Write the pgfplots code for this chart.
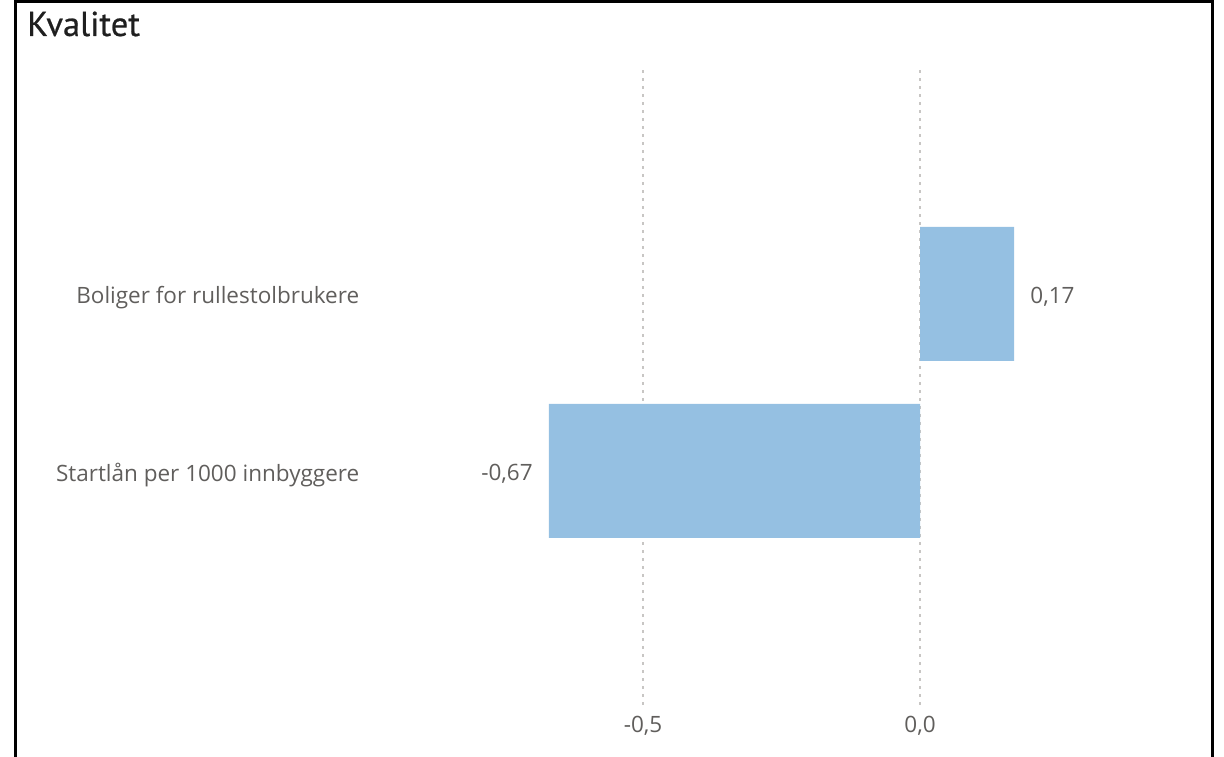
\documentclass[border=0pt]{standalone}
\usepackage{pgfplots}
\pgfplotsset{compat=1.18}
\usepackage{fontspec}
\setmainfont{Open Sans}
\newfontfamily\titlefont[FakeBold=0.6]{PT Sans}
\definecolor{txt}{HTML}{605E5C}
\definecolor{barc}{HTML}{95C0E2}
\definecolor{gridc}{HTML}{C8C6C4}
\begin{document}
\begin{tikzpicture}[x=1pt,y=1pt]
\useasboundingbox (0,0) rectangle (1224,757);
\draw[line width=3pt, black] (15,0) -- (15,755.5) -- (1212,755.5) -- (1212,0);
\node[anchor=base west, inner sep=0pt, text=black!88] at (27,721) {\titlefont\fontsize{34.5}{38}\selectfont Kvalitet};
\begin{axis}[
  at={(400pt,52pt)}, anchor=south west,
  scale only axis, width=780pt, height=640pt,
  xbar, bar width=134pt,
  xmin=-0.93863, xmax=0.46931,
  ymin=-1.3220, ymax=2.2938,
  axis line style={draw=none},
  major tick style={draw=none},
  xtick={-0.5,0}, ytick={0,1},
  yticklabels={Startlån per 1000 innbyggere, Boliger for rullestolbrukere},
  xmajorgrids, grid style={gridc, line width=1.5pt, dash pattern=on 3pt off 5pt},
  /pgf/number format/assume math mode=true,
  /pgf/number format/use comma,
  xticklabel={\pgfmathprintnumber[fixed, fixed zerofill, precision=1, use comma]{\tick}},
  xticklabel style={text=txt, font=\fontsize{22.5}{26}\selectfont, yshift=-8pt},
  yticklabel style={text=txt, font=\fontsize{22.5}{26}\selectfont, anchor=east, xshift=-33pt, yshift=-4pt},
  nodes near coords,
  nodes near coords align={horizontal},
  every node near coord/.append style={text=txt, font=\fontsize{22.5}{26}\selectfont, inner xsep=16pt, inner ysep=2pt, yshift=-3pt,
    /pgf/number format/fixed, /pgf/number format/fixed zerofill, /pgf/number format/precision=2, /pgf/number format/use comma},
  clip=false,
]
\addplot[fill=barc, draw=none] coordinates {(-0.67,0) (0.17,1)};
\end{axis}
\end{tikzpicture}
\end{document}
